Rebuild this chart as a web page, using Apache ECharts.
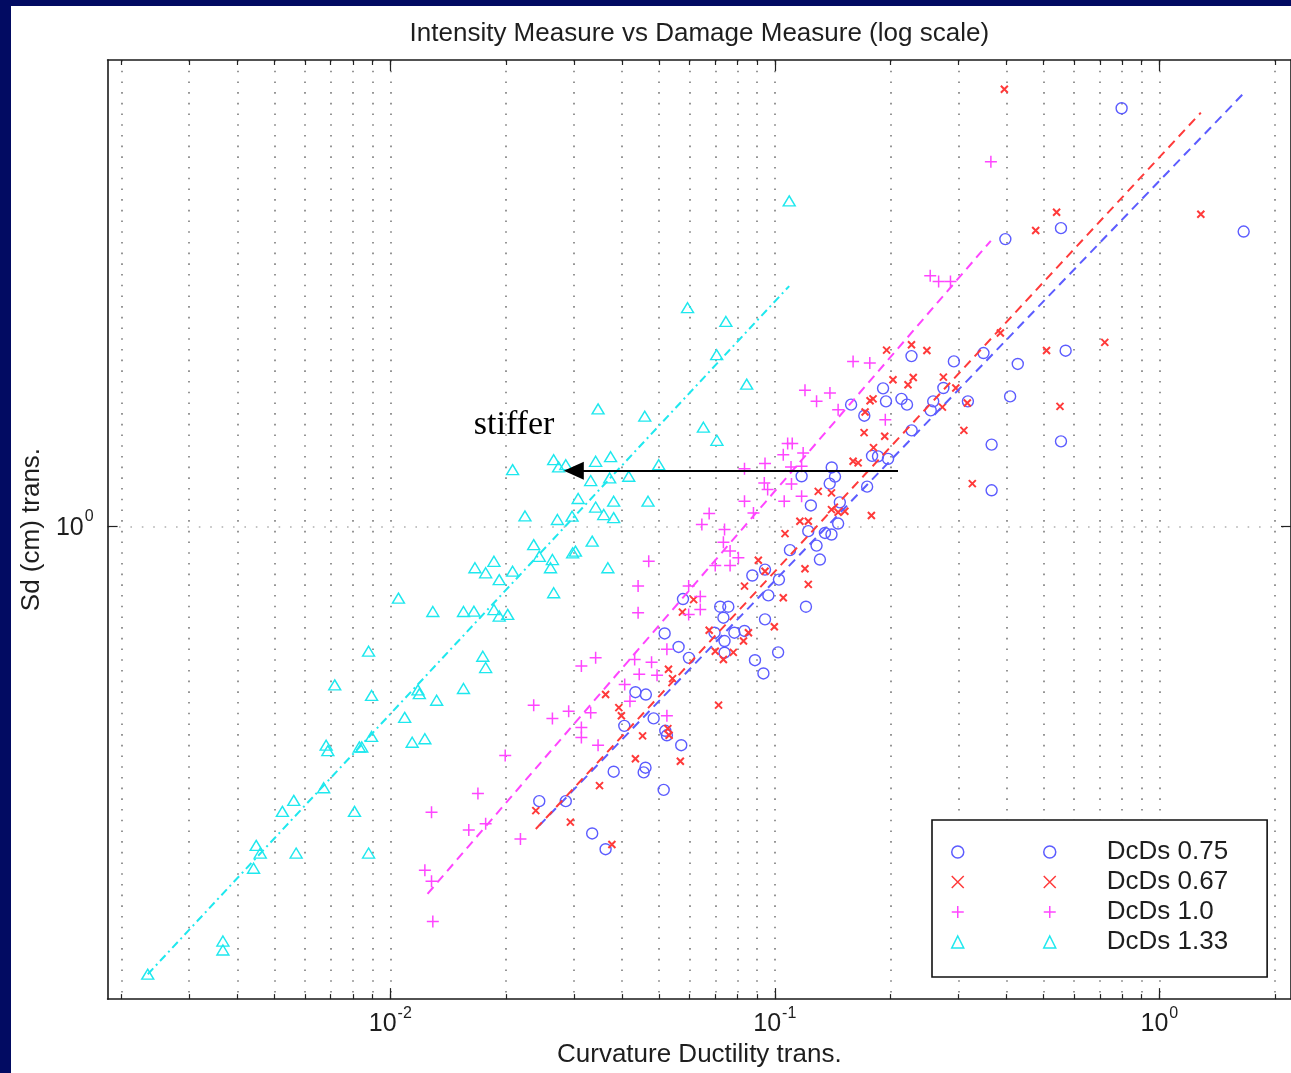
<!DOCTYPE html>
<html><head><meta charset="utf-8">
<script src="https://cdn.jsdelivr.net/npm/echarts@6/dist/echarts.min.js"></script>
<style>
html,body{margin:0;padding:0;background:#020b62;width:1291px;height:1073px;overflow:hidden;}
#chart{position:absolute;left:11px;top:6px;width:1280px;height:1067px;background:#fff;}
</style></head><body><div id="chart"></div>
<script>
const chartTitle = 'Intensity Measure vs Damage Measure (log scale)';
const xName = 'Curvature Ductility trans.';
const yName = 'Sd (cm) trans.';
const seriesNames = ['DcDs 0.75', 'DcDs 0.67', 'DcDs 1.0', 'DcDs 1.33'];
const xRange = [0.00184, 2.2];
const yRange = [0.11324, 8.59];
const xMajorTicks = [0.01, 0.1, 1];
const xMinorTicks = [0.002,0.003,0.004,0.005,0.006,0.007,0.008,0.009,
  0.02,0.03,0.04,0.05,0.06,0.07,0.08,0.09,
  0.2,0.3,0.4,0.5,0.6,0.7,0.8,0.9,2];
const yMajorTicks = [1];

const dcds075 = [[0.0244,0.282],[0.0286,0.282],[0.0335,0.243],[0.0363,0.226],[0.0381,0.323],[0.0456,0.322],[0.0461,0.329],[0.0514,0.297],[0.0406,0.399],[0.0434,0.466],[0.0462,0.461],[0.0484,0.413],[0.0519,0.390],[0.0524,0.382],[0.0571,0.365],[0.0517,0.611],[0.0562,0.574],[0.0598,0.546],[0.0577,0.716],[0.0721,0.691],[0.0757,0.691],[0.0735,0.657],[0.0697,0.613],[0.0740,0.590],[0.0785,0.613],[0.0834,0.618],[0.0740,0.559],[0.0888,0.540],[0.0934,0.508],[0.0943,0.652],[0.102,0.560],[0.0874,0.798],[0.0943,0.820],[0.0962,0.728],[0.1025,0.783],[0.1205,0.691],[0.1095,0.897],[0.1222,0.979],[0.1284,0.916],[0.1310,0.859],[0.1241,1.102],[0.1174,1.261],[0.1406,1.313],[0.1434,1.259],[0.1389,1.219],[0.1350,0.971],[0.1404,0.964],[0.1461,1.014],[0.1476,1.118],[0.1738,1.202],[0.1790,1.385],[0.1855,1.382],[0.1970,1.366],[0.1579,1.754],[0.1709,1.667],[0.1912,1.891],[0.1946,1.781],[0.2135,1.801],[0.2207,1.754],[0.2267,2.194],[0.2582,1.781],[0.2744,1.894],[0.2922,2.141],[0.2544,1.708],[0.2269,1.558],[0.3489,2.225],[0.3178,1.781],[0.4092,1.822],[0.4284,2.116],[0.5706,2.249],[0.3977,3.762],[0.5549,3.957],[0.7978,6.877],[1.657,3.896],[0.3663,1.459],[0.5549,1.481],[0.3663,1.182]];

const dcds067 = [[0.0239,0.270],[0.0294,0.256],[0.0377,0.231],[0.0350,0.303],[0.0363,0.461],[0.0393,0.434],[0.0399,0.418],[0.0434,0.343],[0.0453,0.381],[0.0527,0.394],[0.0531,0.382],[0.0568,0.339],[0.0529,0.518],[0.0542,0.496],[0.0575,0.674],[0.0615,0.714],[0.0714,0.439],[0.0675,0.620],[0.0700,0.563],[0.0735,0.542],[0.0780,0.560],[0.0854,0.613],[0.0829,0.590],[0.0997,0.630],[0.1052,0.720],[0.1222,0.766],[0.1198,0.823],[0.1063,0.968],[0.0943,0.814],[0.0906,0.856],[0.0834,0.760],[0.1162,1.025],[0.1222,1.025],[0.1297,1.176],[0.1404,1.168],[0.1404,1.081],[0.1461,1.068],[0.1521,1.073],[0.1783,1.052],[0.1598,1.351],[0.1647,1.341],[0.1707,1.542],[0.1806,1.439],[0.1931,1.516],[0.1717,1.696],[0.1769,1.786],[0.1801,1.801],[0.2029,1.968],[0.1953,2.255],[0.2220,1.923],[0.2291,1.988],[0.2267,2.312],[0.2486,2.252],[0.2744,1.991],[0.2956,1.894],[0.2728,1.734],[0.3102,1.558],[0.3167,1.768],[0.3263,1.219],[0.3860,2.440],[0.5089,2.252],[0.5516,1.740],[0.7213,2.337],[0.4769,3.914],[0.5405,4.259],[0.3953,7.506],[1.282,4.220]];

const dcds100 = [[0.0128,0.268],[0.0123,0.205],[0.0128,0.195],[0.0129,0.162],[0.0160,0.247],[0.0177,0.254],[0.0169,0.292],[0.0218,0.237],[0.0199,0.348],[0.0236,0.439],[0.0264,0.413],[0.0291,0.427],[0.0332,0.424],[0.0314,0.396],[0.0314,0.378],[0.0347,0.365],[0.0314,0.526],[0.0342,0.546],[0.0432,0.542],[0.0478,0.535],[0.0444,0.506],[0.0494,0.504],[0.0407,0.483],[0.0420,0.447],[0.0524,0.418],[0.0441,0.760],[0.0441,0.672],[0.0470,0.852],[0.0597,0.760],[0.0597,0.667],[0.0524,0.568],[0.0640,0.724],[0.0640,0.682],[0.0700,0.836],[0.0765,0.836],[0.0765,0.893],[0.0804,0.866],[0.0735,0.930],[0.0740,0.986],[0.0646,1.009],[0.0675,1.062],[0.0834,1.124],[0.0880,1.065],[0.1058,1.124],[0.1174,1.150],[0.1105,1.217],[0.0939,1.223],[0.0958,1.186],[0.1102,1.316],[0.1174,1.320],[0.0834,1.305],[0.0943,1.337],[0.1052,1.393],[0.1185,1.404],[0.1080,1.466],[0.1110,1.466],[0.1938,1.637],[0.1461,1.714],[0.1391,1.851],[0.1284,1.781],[0.1198,1.874],[0.1598,2.141],[0.1766,2.126],[0.2536,3.177],[0.2667,3.094],[0.2863,3.094],[0.3647,5.377]];

const dcds133 = [[0.00234,0.127],[0.00367,0.148],[0.00367,0.142],[0.00441,0.207],[0.00448,0.230],[0.00459,0.222],[0.00524,0.269],[0.00561,0.283],[0.00569,0.222],[0.00671,0.300],[0.00681,0.365],[0.00688,0.356],[0.00717,0.482],[0.00807,0.269],[0.00831,0.362],[0.00843,0.362],[0.00878,0.563],[0.00894,0.459],[0.00894,0.380],[0.00878,0.222],[0.0105,0.719],[0.0109,0.415],[0.0114,0.370],[0.0118,0.471],[0.0119,0.463],[0.0123,0.376],[0.0129,0.676],[0.0132,0.449],[0.0155,0.676],[0.0155,0.474],[0.0165,0.677],[0.0186,0.682],[0.0192,0.662],[0.0202,0.667],[0.0174,0.550],[0.0177,0.522],[0.0166,0.827],[0.0177,0.808],[0.0186,0.852],[0.0192,0.783],[0.0208,0.814],[0.0236,0.920],[0.0244,0.872],[0.0261,0.827],[0.0264,0.859],[0.0266,0.737],[0.0224,1.05],[0.0272,1.033],[0.0297,1.049],[0.0303,0.893],[0.0298,0.886],[0.0335,0.935],[0.0368,0.827],[0.0208,1.300],[0.0266,1.361],[0.0274,1.316],[0.0286,1.330],[0.0308,1.138],[0.0342,1.351],[0.0374,1.380],[0.0332,1.236],[0.0372,1.251],[0.0417,1.261],[0.0342,1.094],[0.0381,1.124],[0.0359,1.057],[0.0381,1.042],[0.0468,1.124],[0.0499,1.330],[0.0347,1.720],[0.0459,1.663],[0.0652,1.581],[0.0707,1.488],[0.0845,1.928],[0.0706,2.208],[0.0746,2.574],[0.0593,2.742],[0.109,4.487]];

const fit075 = [[0.0244,0.252],[1.657,7.369]];
const fit067 = [[0.0239,0.248],[1.282,6.739]];
const fit100 = [[0.0125,0.184],[0.3645,3.733]];
const fit133 = [[0.00234,0.127],[0.109,3.03]];

const arrowFrom = [0.2091, 1.294];
const arrowTo = [0.03001, 1.294];
const stifferText = 'stiffer';
const stifferAt = [0.02098, 1.600];

const FONT = 'Liberation Sans, Arial, Helvetica, sans-serif';
const TXT = '#1e1e1e';
const colors = ['#5c5cff', '#ff3a3a', '#ff45ff', '#1ee8ee'];

const labelRich = {
  b: {fontSize: 25, lineHeight: 28, verticalAlign: 'bottom', fontFamily: FONT, color: TXT},
  s: {fontSize: 16, lineHeight: 16, padding: [0, 0, 16, 1], verticalAlign: 'bottom', fontFamily: FONT, color: TXT}
};
const powLabel = v => '{b|10}{s|' + Math.round(Math.log10(v)) + '}';
const axisLineStyle = {color: '#1a1a1a', width: 1.6};

function xAx(pos, ticks, len, extra) {
  return Object.assign({
    type: 'log', logBase: 10, min: xRange[0], max: xRange[1], position: pos, gridIndex: 0,
    axisLine: {show: true, onZero: false, lineStyle: axisLineStyle},
    axisTick: {show: true, inside: true, length: len, customValues: ticks, lineStyle: {color: '#222', width: 1.2}},
    axisLabel: {show: false},
    splitLine: {show: false},
    minorTick: {show: false}, minorSplitLine: {show: false}
  }, extra || {});
}
function yAx(pos, extra) {
  return Object.assign({
    type: 'log', logBase: 10, min: yRange[0], max: yRange[1], position: pos, gridIndex: 0,
    axisLine: {show: true, onZero: false, lineStyle: axisLineStyle},
    axisTick: {show: true, inside: true, length: 10, customValues: yMajorTicks, lineStyle: {color: '#222', width: 1.2}},
    axisLabel: {show: false},
    splitLine: {show: false},
    minorTick: {show: false}, minorSplitLine: {show: false}
  }, extra || {});
}

const allXTicks = xMinorTicks.concat(xMajorTicks).sort((a, b) => a - b);

const scatter = (i, data, symbol, size, bw) => ({
  type: 'scatter', name: seriesNames[i], data: data, symbol: symbol, symbolSize: size,
  xAxisIndex: 0, yAxisIndex: 0, z: 3, silent: true,
  itemStyle: {color: 'rgba(0,0,0,0)', borderColor: colors[i], borderWidth: bw, opacity: 1},
  emphasis: {disabled: true}
});
const fitLine = (i, data, dash) => ({
  type: 'line', name: 'fit ' + seriesNames[i], data: data, symbol: 'none', showSymbol: false,
  xAxisIndex: 0, yAxisIndex: 0, z: 4, silent: true,
  lineStyle: {color: colors[i], width: 2, type: dash},
  emphasis: {disabled: true}
});

const legendCommon = {
  data: seriesNames, orient: 'vertical', itemWidth: 12, itemHeight: 12, itemGap: 0,
  selectedMode: false,
  itemStyle: {borderWidth: 1.5}
};

const chart = echarts.init(document.getElementById('chart'), null, {renderer: 'canvas'});
chart.setOption({
  animation: false,
  backgroundColor: '#ffffff',
  grid: {left: 96, top: 54, width: 1187, height: 940, containLabel: false},
  xAxis: [
    xAx('bottom', allXTicks, 5, {
      axisLabel: {show: true, customValues: xMajorTicks, margin: 10, formatter: powLabel, rich: labelRich},
      splitLine: {show: true, lineStyle: {type: [1.6, 9.1], color: '#7c7c7c', width: 1.6}},
      name: xName, nameLocation: 'middle', nameGap: 40,
      nameTextStyle: {fontSize: 26, fontFamily: FONT, color: TXT}
    }),
    xAx('bottom', xMajorTicks, 11, {axisLine: {show: false}}),
    xAx('top', allXTicks, 5, {
      name: chartTitle, nameLocation: 'middle', nameGap: 13,
      nameTextStyle: {fontSize: 26, fontFamily: FONT, color: TXT}
    }),
    xAx('top', xMajorTicks, 11, {axisLine: {show: false}})
  ],
  yAxis: [
    yAx('left', {
      axisLabel: {show: true, customValues: yMajorTicks, margin: 14, formatter: powLabel, rich: labelRich},
      splitLine: {show: true, lineStyle: {type: [1.6, 9.8], color: '#b0b0b0', width: 1.6}},
      name: yName, nameLocation: 'middle', nameGap: 57,
      nameTextStyle: {fontSize: 26, fontFamily: FONT, color: TXT}
    }),
    yAx('right')
  ],
  legend: [
    Object.assign({}, legendCommon, {
      left: 921, top: 814, padding: [17, 39, 20, 111], itemTextGap: 5,
      textStyle: {fontSize: 26, lineHeight: 30, fontFamily: FONT, color: TXT, padding: [0, 0, 0, 46]},
      backgroundColor: '#ffffff', borderColor: '#111', borderWidth: 1.6, z: 5
    }),
    Object.assign({}, legendCommon, {
      left: 940, top: 831, padding: 0, itemTextGap: 2, formatter: () => ' ',
      textStyle: {fontSize: 26, lineHeight: 30, fontFamily: FONT, color: TXT},
      z: 6
    })
  ],
  series: [
    scatter(0, dcds075, 'circle', 11, 1.4),
    scatter(1, dcds067, 'path://M0,0L10,10M10,0L0,10', 7, 2),
    scatter(2, dcds100, 'path://M5,0L5,10M0,5L10,5', 12, 1.5),
    scatter(3, dcds133, 'triangle', [12, 10], 1.4),
    fitLine(0, fit075, [9, 6]),
    fitLine(1, fit067, [9, 6]),
    fitLine(2, fit100, [9, 6]),
    fitLine(3, fit133, [8, 4, 2, 4]),
    {
      type: 'line', name: 'annotation', data: [], xAxisIndex: 0, yAxisIndex: 0, silent: true, z: 5,
      markLine: {
        silent: true, symbol: ['none', 'triangle'], symbolSize: [18, 20],
        lineStyle: {color: '#000', width: 2, type: 'solid'},
        label: {show: false}, emphasis: {disabled: true},
        data: [[{coord: arrowFrom}, {coord: arrowTo}]]
      },
      markPoint: {
        silent: true, symbol: 'circle', symbolSize: 0,
        label: {show: true, position: 'inside', formatter: stifferText,
          fontFamily: 'Liberation Serif, Times New Roman, serif', fontSize: 34, color: '#000'},
        itemStyle: {color: 'rgba(0,0,0,0)'},
        data: [{coord: stifferAt}]
      }
    }
  ]
});
</script></body></html>
